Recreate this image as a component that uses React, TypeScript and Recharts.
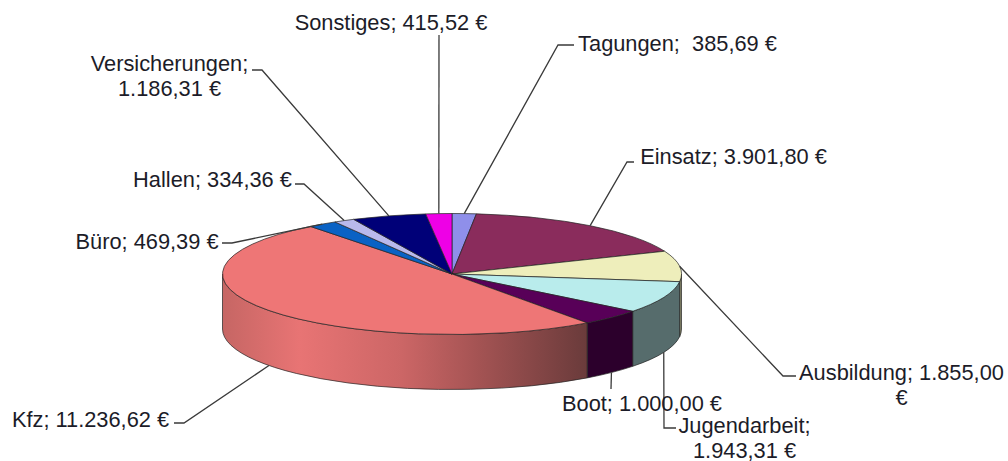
import React from "react";
import { PieChart, Pie } from "recharts";

const names = ["Tagungen", "Einsatz", "Ausbildung", "Jugendarbeit", "Boot", "Kfz", "Büro", "Hallen", "Versicherungen", "Sonstiges"];
const amounts = [385.69, 3901.8, 1855.0, 1943.31, 1000.0, 11236.62, 469.39, 334.36, 1186.31, 415.52];
const topColors = ["#8f8fea", "#8a2c5c", "#eeeebb", "#b9ecec", "#580058", "#ee7676", "#0a62c4", "#b9b9ec", "#000078", "#ee00e6"];
const sideColors = ["#55558a", "#521a36", "#8c8c6e", "#566c6c", "#2c002c", "url(#kfzSide)", "#063a74", "#6e6e8c", "#000048", "#8c0088"];
const labelLines = [
  ["Tagungen;  385,69 €"],
  ["Einsatz; 3.901,80 €"],
  ["Ausbildung; 1.855,00", "€"],
  ["Jugendarbeit;", "1.943,31 €"],
  ["Boot; 1.000,00 €"],
  ["Kfz; 11.236,62 €"],
  ["Büro; 469,39 €"],
  ["Hallen; 334,36 €"],
  ["Versicherungen;", "1.186,31 €"],
  ["Sonstiges; 415,52 €"],
];

// label placement: text centre x, first baseline y, leader elbow and leader start
const labelX = [677.5, 733.5, 901.5, 744.5, 642, 90.5, 147, 212.5, 169.5, 391];
const labelY = [51, 164, 380, 433, 411, 427, 249, 187, 71, 30];
const leaderElbow: ([number, number] | null)[] = [[558, 45], [627, 162], [783, 376], [664, 428], null, [184, 423], [232, 243], [304, 184], [262, 70], null];
const leaderStart: [number, number][] = [[574, 45], [634, 162], [796, 376], [676, 428], [611, 389], [174, 423], [222, 243], [295, 184], [252, 70], [439, 35]];

const data = names.map((name, i) => ({ name, value: amounts[i] }));

const SQUASH = 60.5 / 229.5;
const DEPTH = 55;
const FONT = "'Liberation Sans', Arial, sans-serif";
const RAD = Math.PI / 180;

const Slice3D = (props: any) => {
  const { cx, cy, outerRadius: rx, startAngle, endAngle, index } = props;
  const ry = rx * SQUASH;
  const pt = (a: number, dy = 0) => [cx + rx * Math.cos(a * RAD), cy - ry * Math.sin(a * RAD) + dy];
  const i = index ?? names.indexOf(props.name);
  const sweepLarge = Math.abs(startAngle - endAngle) > 180 ? 1 : 0;
  const [sx, sy] = pt(startAngle);
  const [ex, ey] = pt(endAngle);
  const top = `M${cx},${cy} L${sx},${sy} A${rx},${ry} 0 ${sweepLarge} 1 ${ex},${ey} Z`;

  // outer wall: part of the slice on the front half of the ellipse
  const s = Math.min(startAngle, 0);
  const e = Math.max(endAngle, -180);
  let side = null;
  if (s > e) {
    const [a, b] = pt(s);
    const [c, d] = pt(e);
    const [a2, b2] = pt(s, DEPTH);
    const [c2, d2] = pt(e, DEPTH);
    side = (
      <path
        d={`M${a},${b} A${rx},${ry} 0 0 1 ${c},${d} L${c2},${d2} A${rx},${ry} 0 0 0 ${a2},${b2} Z`}
        fill={sideColors[i]}
        stroke="#222"
        strokeWidth={0.7}
      />
    );
  }
  return (
    <g>
      {side}
      <path d={top} fill={topColors[i]} stroke="#222" strokeWidth={0.7} strokeLinejoin="round" />
    </g>
  );
};

const SliceLabel = (props: any) => {
  const { cx, cy, outerRadius: rx, midAngle, index: i } = props;
  const ry = rx * SQUASH;
  const sinA = Math.sin(midAngle * RAD);
  const endX = cx + rx * Math.cos(midAngle * RAD);
  const endY = cy - ry * sinA + (sinA < 0 ? DEPTH : 0);
  const elbow = leaderElbow[i];
  const start = leaderStart[i];
  const pts = [start, ...(elbow ? [elbow] : []), [endX, endY]].map((p) => p.join(",")).join(" ");
  return (
    <g>
      <polyline points={pts} fill="none" stroke="#3a3a3a" strokeWidth={1.3} />
      <text
        textAnchor="middle"
        fontFamily={FONT}
        fontSize={21.8}
        fill="#1c1c28"
        style={{ whiteSpace: "pre" }}
      >
        {labelLines[i].map((line, k) => (
          <tspan key={k} x={labelX[i]} y={labelY[i] + k * 24.5}>
            {line}
          </tspan>
        ))}
      </text>
    </g>
  );
};

export default function App() {
  return (
    <div style={{ position: "absolute", left: 0, top: 0, width: 1008, height: 461, background: "#fff" }}>
      <PieChart width={1008} height={461} margin={{ top: 0, right: 0, bottom: 0, left: 0 }}>
        <defs>
          <linearGradient id="kfzSide" gradientUnits="userSpaceOnUse" x1={223} y1={0} x2={587} y2={0}>
            <stop offset="0" stopColor="#c66664" />
            <stop offset="0.21" stopColor="#e87474" />
            <stop offset="0.49" stopColor="#cc6666" />
            <stop offset="0.68" stopColor="#a85555" />
            <stop offset="1" stopColor="#6a3b3b" />
          </linearGradient>
        </defs>
        <Pie
          data={data}
          dataKey="value"
          nameKey="name"
          cx={452}
          cy={274}
          innerRadius={0}
          outerRadius={229.5}
          startAngle={90}
          endAngle={-270}
          paddingAngle={0}
          stroke="none"
          isAnimationActive={false}
          shape={Slice3D}
          label={SliceLabel}
          labelLine={false}
        />
      </PieChart>
    </div>
  );
}
